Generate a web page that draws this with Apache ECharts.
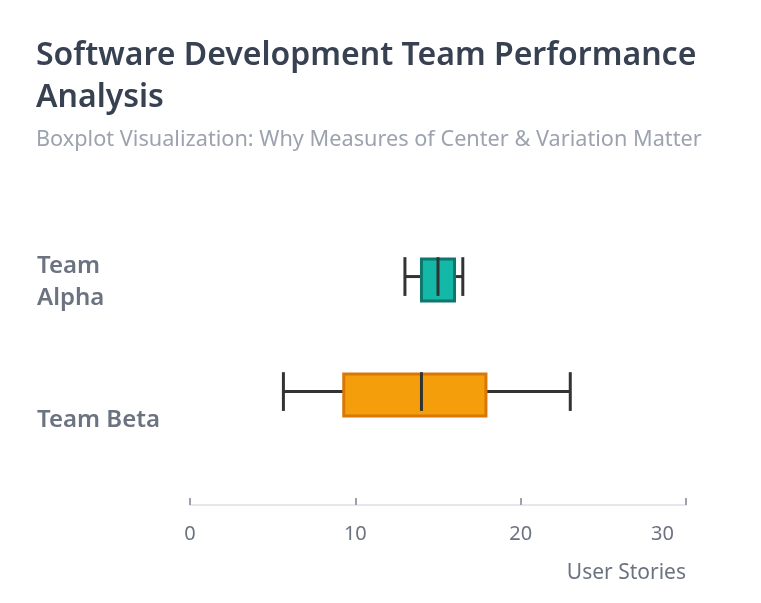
<!DOCTYPE html>
<html>
<head>
<meta charset="utf-8">
<script src="https://cdn.jsdelivr.net/npm/echarts@6/dist/echarts.min.js"></script>
<style>
  html, body { margin: 0; padding: 0; background: #ffffff; }
  #chart { width: 761px; height: 603px; }
</style>
</head>
<body>
<div id="chart"></div>
<script>
// ---- data ----
const categories = ['Team Alpha', 'Team Beta'];
// [min, Q1, median, Q3, max]
const teamAlpha = [13, 14, 15, 16, 16.5];
const teamBeta = [5.65, 9.3, 14, 17.9, 23];
const xTicks = [0, 10, 20, 30];
const titleLines = ['Software Development Team Performance', 'Analysis'];
const subtitleText = 'Boxplot Visualization: Why Measures of Center & Variation Matter';
const axisName = 'User Stories';

const stats = [teamAlpha, teamBeta];
const fills = ['#14b8a6', '#f59e0b'];
const borders = ['#0f766e', '#d97706'];

const seriesData = stats.map((s, i) => [i].concat(s));

const chart = echarts.init(document.getElementById('chart'), null, { renderer: 'canvas' });
const FONT = '"Noto Sans", "Open Sans", sans-serif';

chart.setOption({
  backgroundColor: '#ffffff',
  textStyle: { fontFamily: FONT },
  title: {
    text: titleLines.join('\n'),
    subtext: subtitleText,
    left: 36,
    top: 35,
    itemGap: 8,
    padding: 0,
    textStyle: {
      fontFamily: FONT, fontSize: 32, fontWeight: 600, color: '#374151',
      lineHeight: 42
    },
    subtextStyle: {
      fontFamily: FONT, fontSize: 21.7, color: '#9ca3af', lineHeight: 26
    }
  },
  grid: {
    left: 190, right: 75, top: 222.5, bottom: 150.5,
    outerBoundsMode: 'none'
  },
  xAxis: {
    type: 'value',
    min: xTicks[0], max: xTicks[xTicks.length - 1], interval: xTicks[1] - xTicks[0],
    offset: 52.5,
    name: axisName,
    nameLocation: 'end',
    nameGap: 0,
    nameMoveOverlap: false,
    nameTextStyle: {
      fontFamily: FONT, fontSize: 21, color: '#6b7280',
      align: 'right', verticalAlign: 'top', padding: [58, 0, 0, 0]
    },
    axisLine: { show: true, lineStyle: { color: '#e5e7eb', width: 2 } },
    axisTick: { show: true, inside: true, length: 7, lineStyle: { color: '#9ca3af', width: 2 } },
    splitLine: { show: false },
    axisLabel: {
      fontFamily: FONT, fontSize: 20, color: '#6b7280', margin: 19,
      formatter: function (v) {
        return v === xTicks[xTicks.length - 1] ? '{last|' + v + '}' : String(v);
      },
      rich: {
        last: { fontFamily: FONT, fontSize: 20, color: '#6b7280', padding: [0, 47, 0, 0] }
      }
    }
  },
  yAxis: {
    type: 'category',
    data: categories,
    inverse: true,
    axisLine: { show: false },
    axisTick: { show: false },
    splitLine: { show: false },
    axisLabel: {
      align: 'left',
      margin: 153,
      padding: [4, 0, 0, 0],
      fontFamily: FONT, fontSize: 24, fontWeight: 600, color: '#6b7280',
      lineHeight: 32, width: 130, overflow: 'break',
      formatter: function (v, i) { return i === 1 ? '{low|' + v + '}' : v; },
      rich: {
        low: {
          fontFamily: FONT, fontSize: 24, fontWeight: 600, color: '#6b7280',
          lineHeight: 32, padding: [46, 0, 0, 0]
        }
      }
    }
  },
  series: [{
    type: 'custom',
    data: seriesData,
    encode: { x: [1, 2, 3, 4, 5], y: 0 },
    renderItem: function (params, api) {
      const idx = api.value(0);
      const pLow = api.coord([api.value(1), idx]);
      const pQ1 = api.coord([api.value(2), idx]);
      const pMed = api.coord([api.value(3), idx]);
      const pQ3 = api.coord([api.value(4), idx]);
      const pHigh = api.coord([api.value(5), idx]);
      const band = api.size([0, 1])[1];
      const cy = pLow[1];
      const boxH = band * 0.366;
      const capH = band * 0.337;
      const wy = cy - band * 0.03;
      const lineStyle = { stroke: '#333333', lineWidth: 3 };
      const i = params.dataIndex;
      return {
        type: 'group',
        children: [
          { type: 'line', shape: { x1: pLow[0], y1: wy, x2: pQ1[0], y2: wy }, style: lineStyle },
          { type: 'line', shape: { x1: pQ3[0], y1: wy, x2: pHigh[0], y2: wy }, style: lineStyle },
          { type: 'line', shape: { x1: pLow[0], y1: wy - capH / 2, x2: pLow[0], y2: wy + capH / 2 }, style: lineStyle },
          { type: 'line', shape: { x1: pHigh[0], y1: wy - capH / 2, x2: pHigh[0], y2: wy + capH / 2 }, style: lineStyle },
          {
            type: 'rect',
            shape: { x: pQ1[0], y: cy - boxH / 2, width: pQ3[0] - pQ1[0], height: boxH },
            style: { fill: fills[i], stroke: borders[i], lineWidth: 3 }
          },
          { type: 'line', shape: { x1: pMed[0], y1: wy - capH / 2, x2: pMed[0], y2: wy + capH / 2 }, style: lineStyle }
        ]
      };
    }
  }]
});
</script>
</body>
</html>
